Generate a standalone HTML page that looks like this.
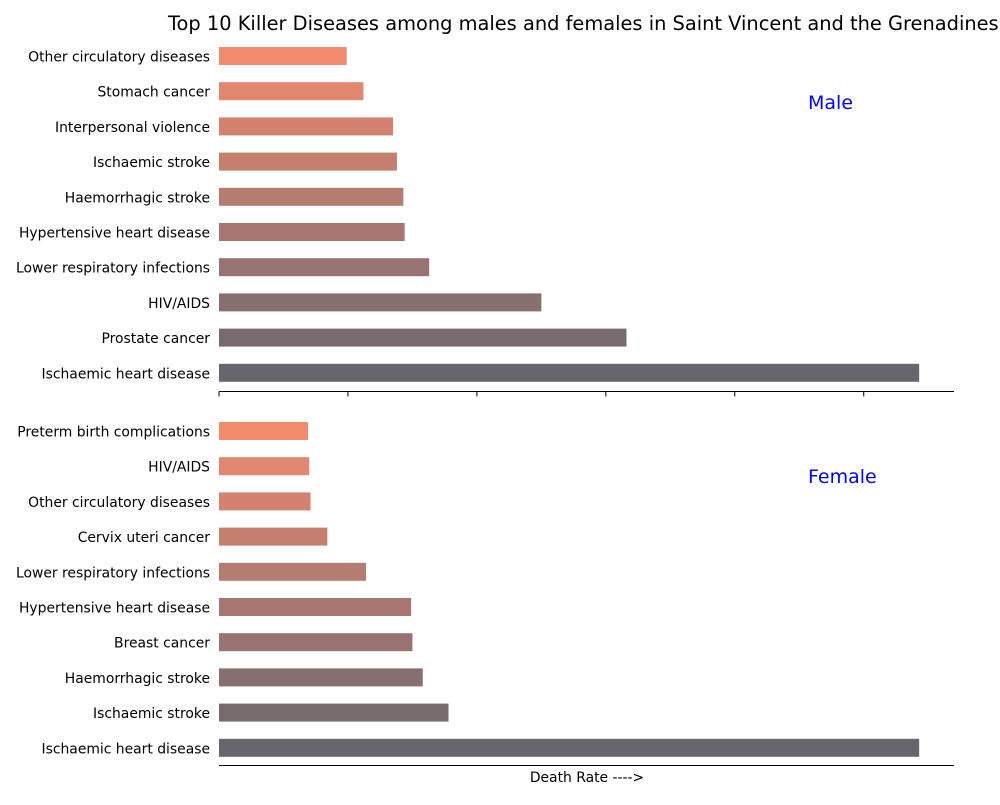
<!DOCTYPE html>
<html><head><meta charset="utf-8"><style>
body{margin:0;background:#fff;font-family:"Liberation Sans","DejaVu Sans",sans-serif}
svg text{font-family:"DejaVu Sans","Liberation Sans",sans-serif}
</style></head><body>
<svg id="chart" width="1000" height="800" xmlns="http://www.w3.org/2000/svg">
<text x="168" y="30" font-size="19.4" fill="#000">Top 10 Killer Diseases among males and females in Saint Vincent and the Grenadines</text>
<text x="808" y="109" font-size="19" fill="#0000ff">Male</text>
<text x="808" y="483" font-size="19" fill="#0000ff">Female</text>
<text x="587" y="782" font-size="13.9" text-anchor="middle">Death Rate ----&gt;</text>
</svg>
<script>
const maleCategories=["Other circulatory diseases","Stomach cancer","Interpersonal violence","Ischaemic stroke","Haemorrhagic stroke","Hypertensive heart disease","Lower respiratory infections","HIV/AIDS","Prostate cancer","Ischaemic heart disease"];
const maleValues=[9.9,11.2,13.5,13.8,14.3,14.4,16.3,25.0,31.6,54.3];
const femaleCategories=["Preterm birth complications","HIV/AIDS","Other circulatory diseases","Cervix uteri cancer","Lower respiratory infections","Hypertensive heart disease","Breast cancer","Haemorrhagic stroke","Ischaemic stroke","Ischaemic heart disease"];
const femaleValues=[6.9,7.0,7.1,8.4,11.4,14.9,15.0,15.8,17.8,54.3];
const tickValues=[0,10,20,30,40,50];
const colors=["#f28a6e","#e1866f","#d4826f","#c47f6f","#b57d72","#a77671","#977372","#887070","#786b6e","#67666e"];
const svg=document.getElementById('chart');
const NS="http://www.w3.org/2000/svg";
const x0=219,x1=954,xmax=57;
const xs=v=>x0+v/xmax*(x1-x0);
function mk(t,a){const e=document.createElementNS(NS,t);for(const k in a)e.setAttribute(k,a[k]);svg.appendChild(e);return e;}
function panel(cats,vals,top,axisY,ticks,prefix){
 const step=35.2;
 cats.forEach((c,i)=>{
  const cy=top+i*step;
  const r=mk('rect',{x:x0,y:cy-9,width:xs(vals[i])-x0,height:18,fill:colors[i]});
  
  
  const t=mk('text',{x:210,y:cy+5.5,'font-size':13.9,'text-anchor':'end'});
  t.textContent=c;
  
  
 });
 const ax=mk('line',{x1:x0,x2:x1,y1:axisY,y2:axisY,stroke:'#000','stroke-width':1});
 
 
 if(ticks)tickValues.forEach(v=>{
  const tk=mk('line',{x1:xs(v),x2:xs(v),y1:axisY,y2:axisY+5,stroke:'#000'});
  
  
 });
}
panel(maleCategories,maleValues,56,391.5,true,'male');
panel(femaleCategories,femaleValues,431,765.5,false,'female');
</script>
</body></html>
